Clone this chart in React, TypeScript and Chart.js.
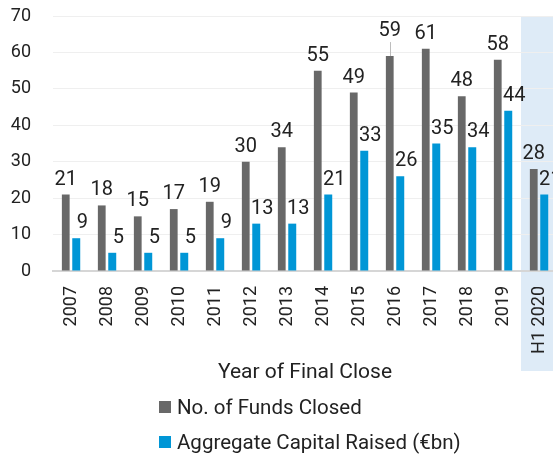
import React, { useEffect, useRef } from "react";
import { Chart, registerables } from "chart.js";

Chart.register(...registerables);

const categories = ["2007", "2008", "2009", "2010", "2011", "2012", "2013", "2014", "2015", "2016", "2017", "2018", "2019", "H1 2020"];
const fundsClosed = [21, 18, 15, 17, 19, 30, 34, 55, 49, 59, 61, 48, 58, 28];
const capitalRaised = [9, 5, 5, 5, 9, 13, 13, 21, 33, 26, 35, 34, 44, 21];
const seriesNames = ["No. of Funds Closed", "Aggregate Capital Raised (€bn)"];
const axisTitle = "Year of Final Close";
const yMin = 0;
const yMax = 70;
const yStep = 10;

const GRAY = "#686868";
const BLUE = "#0096d6";
const BAND = "#deebf7";
const TEXT = "#222222";
const FONT = "Roboto, 'DejaVu Sans', sans-serif";
const LIFTED_LABEL = 9; // 2016 label sits higher with a leader line

const bandPlugin = {
  id: "band",
  beforeDraw(chart: any) {
    const { ctx, chartArea, scales } = chart;
    const xs = scales.x;
    const n = categories.length;
    const x0 = (xs.getPixelForValue(n - 2) + xs.getPixelForValue(n - 1)) / 2;
    ctx.save();
    ctx.fillStyle = BAND;
    ctx.fillRect(x0, chartArea.top, chart.width - x0, chartArea.bottom - chartArea.top + 100);
    ctx.restore();
  },
};

const labelPlugin = {
  id: "barLabels",
  afterDatasetsDraw(chart: any) {
    const ctx = chart.ctx;
    ctx.save();
    ctx.font = `20px ${FONT}`;
    ctx.fillStyle = TEXT;
    ctx.textAlign = "center";
    ctx.textBaseline = "alphabetic";
    chart.data.datasets.forEach((ds: any, di: number) => {
      const meta = chart.getDatasetMeta(di);
      meta.data.forEach((bar: any, i: number) => {
        const v = ds.data[i];
        const x = bar.x + (di === 1 ? 6 : 0);
        let y = bar.y - 10;
        if (di === 0 && i === LIFTED_LABEL) {
          y -= 10;
          ctx.save();
          ctx.strokeStyle = "#bdbdbd";
          ctx.lineWidth = 1;
          ctx.beginPath();
          ctx.moveTo(Math.round(bar.x) + 0.5, bar.y);
          ctx.lineTo(Math.round(bar.x) + 0.5, y + 6);
          ctx.stroke();
          ctx.restore();
        }
        ctx.fillText(String(v), x, y);
      });
    });
    ctx.restore();
  },
};

export default function App() {
  const canvasRef = useRef<HTMLCanvasElement | null>(null);

  useEffect(() => {
    if (!canvasRef.current) return;
    const chart = new Chart(canvasRef.current, {
      type: "bar",
      data: {
        labels: categories,
        datasets: [
          {
            label: seriesNames[0],
            data: fundsClosed,
            backgroundColor: GRAY,
            categoryPercentage: 0.583,
            barPercentage: 0.74,
          },
          {
            label: seriesNames[1],
            data: capitalRaised,
            backgroundColor: BLUE,
            categoryPercentage: 0.583,
            barPercentage: 0.76,
          },
        ],
      },
      options: {
        animation: false,
        responsive: true,
        maintainAspectRatio: false,
        layout: { padding: { top: 16, right: 3, bottom: 70, left: 0 } },
        plugins: {
          legend: { display: false },
          tooltip: { enabled: false },
        },
        scales: {
          x: {
            grid: { display: false, drawTicks: false },
            border: { display: true, color: "#d6d6d6", width: 2 },
            ticks: {
              minRotation: 90,
              maxRotation: 90,
              padding: 15,
              color: TEXT,
              font: { family: FONT, size: 18 },
            },
            title: {
              display: true,
              text: axisTitle,
              color: TEXT,
              font: { family: FONT, size: 21 },
              padding: { top: 0, bottom: 0 },
            },
            afterFit: (scale: any) => {
              scale.height = 114;
              scale.paddingLeft = 0;
              scale.paddingRight = 0;
            },
          },
          y: {
            min: yMin,
            max: yMax,
            grid: { color: "#efefef", lineWidth: 1, drawTicks: false },
            border: { display: false },
            ticks: {
              stepSize: yStep,
              padding: 22,
              color: TEXT,
              font: { family: FONT, size: 18 },
            },
            afterFit: (scale: any) => {
              scale.width = 53;
              scale.paddingTop = 0;
              scale.paddingBottom = 0;
            },
          },
        },
      },
      plugins: [bandPlugin, labelPlugin],
    });
    return () => chart.destroy();
  }, []);

  const legendItem = (color: string, text: string, top: number) => (
    <div
      style={{
        position: "absolute",
        left: 159,
        top,
        display: "flex",
        alignItems: "center",
        height: 24,
        fontFamily: FONT,
        fontSize: 20.5,
        color: TEXT,
        whiteSpace: "nowrap",
      }}
    >
      <span style={{ display: "inline-block", width: 12, height: 12, background: color, marginRight: 6 }} />
      <span>{text}</span>
    </div>
  );

  return (
    <div style={{ position: "absolute", left: 0, top: 0, width: 553, height: 455, overflow: "hidden", background: "#fff" }}>
      <div style={{ position: "relative", width: 560, height: 455 }}>
        <canvas ref={canvasRef} />
      </div>
      {legendItem(GRAY, seriesNames[0], 395)}
      {legendItem(BLUE, seriesNames[1], 430)}
    </div>
  );
}
